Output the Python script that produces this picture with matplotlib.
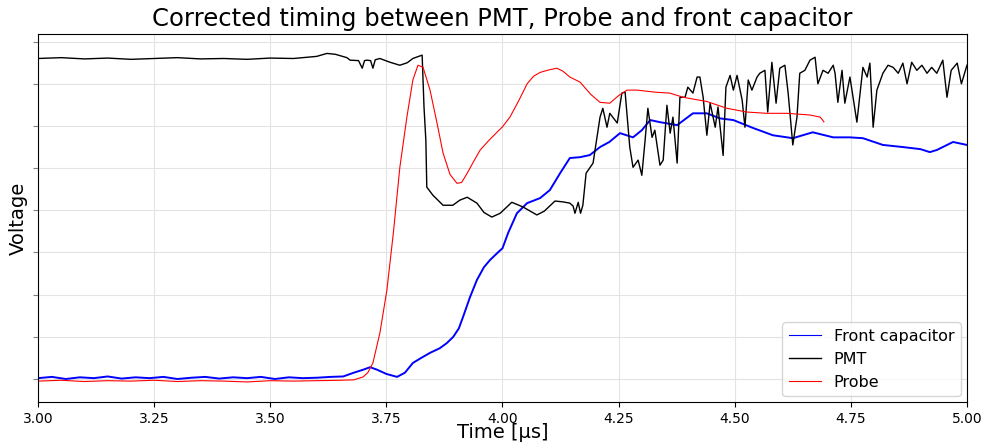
import numpy as np
import matplotlib.pyplot as plt

# Front capacitor (blue) - time in us, voltage in arbitrary units (1 unit = 1 y tick)
fc_t = [3.00, 3.03, 3.06, 3.09, 3.12, 3.15, 3.18, 3.21, 3.24, 3.27, 3.30, 3.33, 3.36,
        3.39, 3.42, 3.45, 3.48, 3.51, 3.54, 3.57, 3.60, 3.63, 3.657, 3.68, 3.70, 3.715,
        3.73, 3.75, 3.773, 3.79, 3.807, 3.825, 3.844, 3.865, 3.88, 3.894, 3.906, 3.915,
        3.93, 3.945, 3.96, 3.973, 3.99, 4.0, 4.012, 4.031, 4.053, 4.081, 4.102, 4.124,
        4.145, 4.167, 4.188, 4.21, 4.23, 4.253, 4.281, 4.30, 4.318, 4.339, 4.376, 4.41,
        4.44, 4.468, 4.497, 4.54, 4.582, 4.625, 4.668, 4.712, 4.748, 4.776, 4.819, 4.862,
        4.90, 4.92, 4.935, 4.97, 5.00]
fc_v = [0.02, 0.05, 0.0, 0.04, 0.02, 0.06, 0.01, 0.04, 0.02, 0.05, 0.0, 0.03, 0.05,
        0.01, 0.04, 0.02, 0.05, 0.0, 0.04, 0.02, 0.03, 0.05, 0.06, 0.15, 0.22, 0.28,
        0.22, 0.12, 0.05, 0.15, 0.38, 0.5, 0.62, 0.73, 0.85, 1.0, 1.2, 1.47,
        1.94, 2.35, 2.65, 2.82, 3.0, 3.1, 3.46, 3.93, 4.17, 4.29, 4.48, 4.88,
        5.24, 5.26, 5.31, 5.5, 5.62, 5.83, 5.73, 5.9, 6.14, 6.09, 6.02, 6.3,
        6.3, 6.18, 6.14, 5.95, 5.78, 5.71, 5.85, 5.73, 5.73, 5.71, 5.55, 5.5,
        5.45, 5.38, 5.43, 5.62, 5.55]

# Probe (red)
pr_t = [3.00, 3.05, 3.10, 3.15, 3.20, 3.25, 3.30, 3.35, 3.40, 3.45, 3.50, 3.55, 3.60,
        3.65, 3.68, 3.70, 3.71, 3.721, 3.736, 3.751, 3.765, 3.779, 3.794, 3.807, 3.818,
        3.829, 3.844, 3.859, 3.872, 3.887, 3.902, 3.912, 3.924, 3.94, 3.952, 3.97, 3.988,
        4.0, 4.016, 4.035, 4.053, 4.067, 4.081, 4.10, 4.117, 4.13, 4.145, 4.167, 4.19,
        4.21, 4.231, 4.25, 4.268, 4.29, 4.33, 4.36, 4.389, 4.44, 4.483, 4.526, 4.569,
        4.612, 4.662, 4.684, 4.692]
pr_v = [-0.05, -0.03, -0.06, -0.04, -0.05, -0.03, -0.06, -0.04, -0.05, -0.07, -0.04, -0.05, -0.04,
        -0.03, -0.02, 0.05, 0.15, 0.38, 1.09, 2.1, 3.46, 5.02, 6.2, 7.09, 7.44,
        7.39, 6.85, 6.07, 5.36, 4.85, 4.64, 4.66, 4.88, 5.2, 5.43, 5.65, 5.85,
        5.98, 6.21, 6.6, 7.0, 7.18, 7.27, 7.33, 7.37, 7.3, 7.16, 7.04, 6.75,
        6.56, 6.54, 6.72, 6.85, 6.85, 6.8, 6.78, 6.68, 6.58, 6.42, 6.33, 6.3,
        6.3, 6.26, 6.21, 6.1]

# PMT (black)
pmt_t = [3.00, 3.05, 3.10, 3.15, 3.20, 3.25, 3.30, 3.35, 3.40, 3.45, 3.50, 3.55, 3.60,
         3.622, 3.64, 3.665, 3.672, 3.69, 3.698, 3.703, 3.708, 3.716, 3.721, 3.726, 3.736,
         3.758, 3.779, 3.795, 3.807, 3.827, 3.831, 3.835, 3.837, 3.85, 3.872, 3.893, 3.908,
         3.924, 3.945, 3.96, 3.977, 3.995, 4.02, 4.044, 4.074, 4.09, 4.113, 4.13, 4.145,
         4.152, 4.156, 4.163, 4.168, 4.173, 4.18, 4.195, 4.21, 4.216, 4.225, 4.231, 4.247,
         4.257, 4.264, 4.274, 4.281, 4.292, 4.30, 4.307, 4.313, 4.322, 4.328, 4.339, 4.346,
         4.354, 4.361, 4.367, 4.376, 4.382, 4.393, 4.399, 4.41, 4.419, 4.425, 4.432, 4.44,
         4.447, 4.458, 4.464, 4.475, 4.481, 4.49, 4.497, 4.505, 4.516, 4.522, 4.529, 4.537,
         4.548, 4.554, 4.565, 4.571, 4.58, 4.589, 4.597, 4.608, 4.615, 4.625, 4.634, 4.64,
         4.651, 4.662, 4.673, 4.679, 4.69, 4.701, 4.712, 4.716, 4.722, 4.731, 4.737, 4.748,
         4.763, 4.776, 4.785, 4.791, 4.798, 4.806, 4.819, 4.83, 4.841, 4.852, 4.862, 4.871,
         4.881, 4.892, 4.903, 4.914, 4.924, 4.935, 4.948, 4.957, 4.966, 4.979, 4.988, 5.00]
pmt_v = [7.6, 7.62, 7.59, 7.61, 7.58, 7.6, 7.62, 7.59, 7.6, 7.58, 7.61, 7.6, 7.65,
         7.72, 7.7, 7.62, 7.56, 7.55, 7.37, 7.55, 7.56, 7.55, 7.37, 7.57, 7.6,
         7.51, 7.44, 7.5, 7.6, 7.68, 6.45, 5.66, 4.55, 4.36, 4.12, 4.12, 4.24,
         4.31, 4.17, 3.95, 3.84, 3.93, 4.19, 4.08, 3.89, 3.98, 4.22, 4.2, 4.17,
         4.1, 3.93, 4.19, 3.93, 4.12, 4.88, 5.12, 6.21, 6.42, 5.97, 6.3, 6.07,
         6.78, 6.8, 5.5, 5.02, 5.19, 4.83, 5.66, 6.42, 5.73, 5.9, 5.07, 5.19,
         6.49, 5.83, 6.21, 5.12, 6.68, 6.68, 6.92, 6.78, 7.16, 7.16, 6.68, 5.78,
         6.54, 5.97, 6.45, 5.3, 6.92, 7.2, 6.85, 7.2, 6.61, 5.97, 7.09, 6.85,
         7.16, 7.25, 7.32, 6.33, 7.51, 6.54, 7.37, 7.44, 6.78, 5.55, 6.21, 7.25,
         7.32, 7.56, 7.63, 7.0, 7.32, 7.25, 7.44, 7.25, 6.56, 7.32, 6.54, 7.16,
         6.09, 7.39, 7.16, 7.49, 5.97, 6.85, 7.25, 7.44, 7.39, 7.25, 7.49, 7.0,
         7.51, 7.32, 7.44, 7.25, 7.39, 7.25, 7.56, 6.68, 7.32, 7.49, 7.0, 7.44]

xticks = [3.00, 3.25, 3.50, 3.75, 4.00, 4.25, 4.50, 4.75, 5.00]
yticks = [0, 1, 2, 3, 4, 5, 6, 7, 8]

fig = plt.figure(figsize=(9.85, 4.42), dpi=100)
ax = fig.add_axes([0.0386, 0.0894, 0.9431, 0.8336])

ax.plot(fc_t, fc_v, color='blue', lw=1.4, label='Front capacitor')
ax.plot(pmt_t, pmt_v, color='black', lw=1.0, label='PMT')
ax.plot(pr_t, pr_v, color='red', lw=0.8, label='Probe')

ax.set_xlim(3.0, 5.0)
ax.set_ylim(-0.557, 8.18)
ax.set_xticks(xticks)
ax.set_xticklabels(['%.2f' % x for x in xticks], fontsize=10)
ax.set_yticks(yticks)
ax.tick_params(axis='y', labelleft=False, color='grey')
ax.grid(True, color='#e3e3e3', lw=0.8)
ax.set_axisbelow(True)

ax.set_title('Corrected timing between PMT, Probe and front capacitor', fontsize=17.5)
ax.set_xlabel('Time [\u00b5s]', fontsize=14, labelpad=-2)
ax.set_ylabel('Voltage', fontsize=14)

leg = ax.legend(loc='lower right', fontsize=11.5, borderaxespad=0.4)
leg.get_lines()[0].set_linewidth(0.8)

plt.savefig('out.png', dpi=100)
